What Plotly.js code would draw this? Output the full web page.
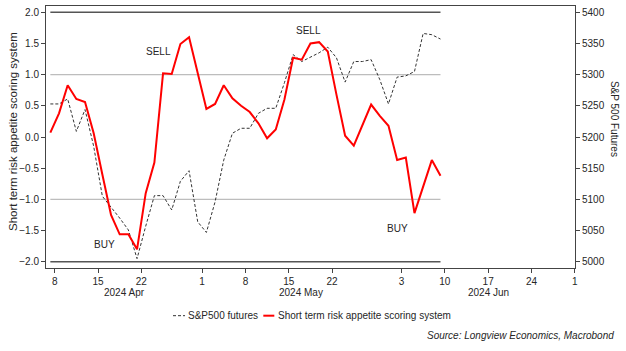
<!DOCTYPE html>
<html>
<head>
<meta charset="utf-8">
<script src="https://cdn.plot.ly/plotly-3.0.1.min.js"></script>
<style>html,body{margin:0;padding:0;background:#fff;}#chart{width:626px;height:351px;}</style>
</head>
<body>
<div id="chart"></div>
<script>
// Business days (data plotted mid-day)
const dates = ['2024-04-05','2024-04-08','2024-04-09','2024-04-10','2024-04-11','2024-04-12',
  '2024-04-15','2024-04-16','2024-04-17','2024-04-18','2024-04-19',
  '2024-04-22','2024-04-23','2024-04-24','2024-04-25','2024-04-26',
  '2024-04-29','2024-04-30','2024-05-01','2024-05-02','2024-05-03',
  '2024-05-06','2024-05-07','2024-05-08','2024-05-09','2024-05-10',
  '2024-05-13','2024-05-14','2024-05-15','2024-05-16','2024-05-17',
  '2024-05-20','2024-05-21','2024-05-22','2024-05-23','2024-05-24',
  '2024-05-27','2024-05-28','2024-05-29','2024-05-30','2024-05-31',
  '2024-06-03','2024-06-04','2024-06-05','2024-06-06','2024-06-07'];

const riskScore = [0.07,0.38,0.83,0.61,0.56,0.06,-0.60,-1.25,-1.56,-1.56,-1.80,-0.90,-0.41,1.02,1.01,1.49,1.60,1.03,0.45,0.53,0.83,0.62,0.50,0.40,0.22,-0.02,0.12,0.60,1.27,1.24,1.50,1.52,1.37,0.68,0.02,-0.14,0.20,0.52,0.34,0.18,-0.37,-0.33,-1.22,-0.78,-0.37,-0.62];

const spxFutures = [5253,5253,5261,5209,5244,5185,5105,5088,5070,5051,5005,5057,5106,5106,5083,5129,5146,5064,5047,5096,5163,5206,5214,5214,5238,5246,5246,5287,5332,5321,5328,5335,5344,5327,5288,5321,5321,5324,5292,5253,5296,5298,5305,5366,5364,5357];

const tickDates = ['2024-04-08','2024-04-15','2024-04-22','2024-05-01','2024-05-08','2024-05-15','2024-05-22','2024-06-03','2024-06-10','2024-06-17','2024-06-24','2024-07-01'];
const tickLabels = ['8','15','22','1','8','15','22','3','10','17','24','1'];
const monthLabels = ['2024 Apr','2024 May','2024 Jun'];
const refLevels = [2, 1, -1, -2];
const seriesNames = ['S&P500 futures','Short term risk appetite scoring system'];

const xs = dates.map(d => d + ' 12:00');
const FONT = 'Liberation Sans, Arial, sans-serif';
const TXT = '#262626';

const traces = [
  {x: xs, y: spxFutures, yaxis: 'y', type: 'scatter', mode: 'lines', name: seriesNames[0],
   line: {color: '#333333', width: 1, dash: '3px,2px'}, hoverinfo: 'skip'},
  {x: xs, y: riskScore, yaxis: 'y2', type: 'scatter', mode: 'lines', name: seriesNames[1],
   line: {color: '#ff0000', width: 2}, hoverinfo: 'skip'}
];

const shapes = refLevels.map(v => ({
  type: 'line', xref: 'x', yref: 'y2', x0: xs[0], x1: xs[xs.length-1], y0: v, y1: v,
  layer: 'below',
  line: {color: Math.abs(v) === 2 ? '#555555' : '#bdbdbd', width: Math.abs(v) === 2 ? 1.6 : 1.2}
}));
// custom legend samples
shapes.push({type:'line', xref:'paper', yref:'paper', x0:0.2401, x1:0.2628, y0:-0.182, y1:-0.182,
  line:{color:'#333333', width:1, dash:'3px,2px'}});
shapes.push({type:'line', xref:'paper', yref:'paper', x0:0.4108, x1:0.4316, y0:-0.182, y1:-0.182,
  line:{color:'#ff0000', width:2}});

function ann(text, x, y, opts) {
  return Object.assign({text: text, xref: 'paper', yref: 'paper', x: x, y: y, showarrow: false,
    xanchor: 'center', yanchor: 'middle', font: {family: FONT, size: 10, color: TXT}}, opts || {});
}

const annotations = [
  ann('SELL', 0.212, 0.828),
  ann('SELL', 0.496, 0.906),
  ann('BUY', 0.110, 0.089),
  ann('BUY', 0.664, 0.152),
  ann(monthLabels[0], 0.148, -0.0954),
  ann(monthLabels[1], 0.482, -0.0954),
  ann(monthLabels[2], 0.836, -0.0954),
  ann('Short term risk appetite scoring system', -0.0614, 0.521, {textangle: -90, font: {family: FONT, size: 11.5, color: TXT}}),
  ann('S&amp;P 500 Futures', 1.0737, 0.569, {textangle: 90, font: {family: FONT, size: 10, color: TXT}}),
  ann(seriesNames[0].replace('&','&amp;'), 0.264, -0.182, {xanchor: 'left'}),
  ann(seriesNames[1], 0.434, -0.182, {xanchor: 'left'}),
  ann('<i>Source: Longview Economics, Macrobond</i>', 1.0775, -0.258, {xanchor: 'right'})
];

const layout = {
  width: 626, height: 351,
  margin: {l: 46, r: 51, t: 6, b: 83, pad: 0},
  paper_bgcolor: '#ffffff', plot_bgcolor: '#ffffff',
  showlegend: false,
  font: {family: FONT, size: 10, color: TXT},
  xaxis: {
    type: 'date', range: ['2024-04-05', '2024-07-01 00:20'],
    rangebreaks: [{bounds: ['sat', 'mon']}],
    tickmode: 'array', tickvals: tickDates, ticktext: tickLabels,
    ticks: 'outside', ticklen: 4, tickcolor: '#444', tickwidth: 1,
    showline: true, linecolor: '#444', linewidth: 1, mirror: true,
    showgrid: false, zeroline: false,
    tickfont: {family: FONT, size: 10, color: TXT}
  },
  yaxis: {
    range: [4990, 5410], side: 'right', tick0: 5000, dtick: 50,
    ticks: 'outside', ticklen: 4, tickcolor: '#444',
    showline: true, linecolor: '#444', linewidth: 1,
    showgrid: false, zeroline: false,
    tickfont: {family: FONT, size: 10, color: TXT}
  },
  yaxis2: {
    range: [-2.1, 2.1], side: 'left', overlaying: 'y', tick0: -2, dtick: 0.5, tickformat: '.1f',
    ticks: 'outside', ticklen: 4, tickcolor: '#444',
    showline: true, linecolor: '#444', linewidth: 1,
    showgrid: false, zeroline: false,
    tickfont: {family: FONT, size: 10, color: TXT}
  },
  shapes: shapes,
  annotations: annotations
};

Plotly.newPlot('chart', traces, layout, {staticPlot: true, displayModeBar: false});
</script>
</body>
</html>
